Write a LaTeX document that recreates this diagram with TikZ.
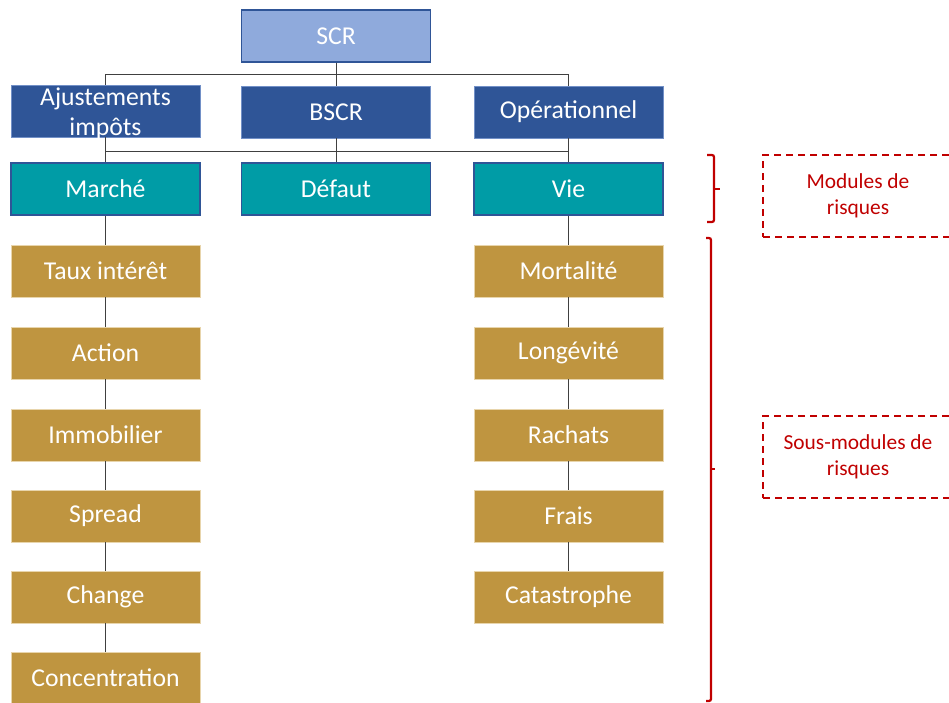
\documentclass[tikz,border=0pt]{standalone}
\usepackage{fontspec}
\setmainfont{Carlito}
\definecolor{scrblue}{HTML}{8FAADC}
\definecolor{darkblue}{HTML}{2F5597}
\definecolor{tealc}{HTML}{009CA6}
\definecolor{goldc}{HTML}{BF9540}
\definecolor{goldedge}{HTML}{E8D5AC}
\definecolor{redc}{HTML}{C00000}
\definecolor{linec}{HTML}{404040}
\begin{document}
\begin{tikzpicture}[x=1pt,y=-1pt,
  box/.style={minimum width=189pt,minimum height=52pt,inner sep=0pt,text=white,
    font=\fontsize{25.7}{30.5}\selectfont,align=center,line width=0.9pt},
  topbox/.style={box,fill=scrblue,draw=darkblue,line width=1.2pt},
  mainbox/.style={box,fill=darkblue,draw=scrblue!70!darkblue,line width=0.6pt},
  modbox/.style={box,fill=tealc,draw=darkblue,line width=1.2pt},
  subbox/.style={box,fill=goldc,draw=goldedge,line width=0.8pt},
  conn/.style={draw=linec,line width=0.9pt},
  brace/.style={draw=redc,line width=2.2pt,rounded corners=2pt},
  note/.style={draw=redc,line width=1.3pt,dash pattern=on 7pt off 5pt,
    minimum width=190pt,minimum height=82pt,text=redc,align=center,
    font=\fontsize{21.4}{25.7}\selectfont}]
\useasboundingbox (0,0) rectangle (949,702);
\begin{scope}
\clip (0,0) rectangle (949,702);
\node[topbox] (scr) at (336,36) {SCR};
\node[mainbox] (aj) at (105.5,111) {};
\node[mainbox] (bscr) at (336,112) {BSCR};
\node[mainbox] (op) at (568.5,112) {Opérationnel};
\node[modbox] (mar) at (105.5,189) {Marché};
\node[modbox] (def) at (336,189) {Défaut};
\node[modbox] (vie) at (568.5,189) {Vie};
\node[subbox] (l1) at (105.5,271) {Taux intérêt};
\node[subbox] (l2) at (105.5,353) {Action};
\node[subbox] (l3) at (105.5,435) {Immobilier};
\node[subbox] (l4) at (105.5,516) {Spread};
\node[subbox] (l5) at (105.5,597) {Change};
\node[subbox] (l6) at (105.5,678) {Concentration};
\node[subbox] (r1) at (568.5,271) {Mortalité};
\node[subbox] (r2) at (568.5,353) {Longévité};
\node[subbox] (r3) at (568.5,435) {Rachats};
\node[subbox] (r4) at (568.5,516) {Frais};
\node[subbox] (r5) at (568.5,597) {Catastrophe};
% connectors
\draw[conn] (scr.south) -- (bscr.north);
\draw[conn] (scr.south) -- ++(0,12) -| (aj.north);
\draw[conn] (scr.south) -- ++(0,12) -| (op.north);
\draw[conn] (bscr.south) -- (def.north);
\draw[conn] (bscr.south) -- ++(0,13) -| (mar.north);
\draw[conn] (bscr.south) -- ++(0,13) -| (vie.north);
\draw[conn] (aj.south) -- (mar.north);
\draw[conn] (op.south) -- (vie.north);
\draw[conn] (mar) -- (l1);
\draw[conn] (l1) -- (l2);
\draw[conn] (l2) -- (l3);
\draw[conn] (l3) -- (l4);
\draw[conn] (l4) -- (l5);
\draw[conn] (l5) -- (l6);
\draw[conn] (vie) -- (r1);
\draw[conn] (r1) -- (r2);
\draw[conn] (r2) -- (r3);
\draw[conn] (r3) -- (r4);
\draw[conn] (r4) -- (r5);
% text of the two-line box drawn over the connector
\node[text=white,font=\fontsize{25.7}{30.5}\selectfont,align=center,inner sep=0pt] (ajt) at (105.5,113.5) {Ajustements\\impôts};
% brackets
\draw[brace] (707,155) -- (714,155) -- (714,222) -- (707,222);
\draw[draw=redc,line width=2.2pt] (714,189) -- (720,189);
\draw[brace] (706,238) -- (711,238) -- (711,701) -- (706,701);
\draw[draw=redc,line width=2.2pt] (711,469) -- (715,469);
% notes
\node[note] (n1) at (858,196) {Modules de\\risques};
\node[note] (n2) at (858,457) {Sous-modules de\\risques};
\end{scope}
\end{tikzpicture}
\end{document}
